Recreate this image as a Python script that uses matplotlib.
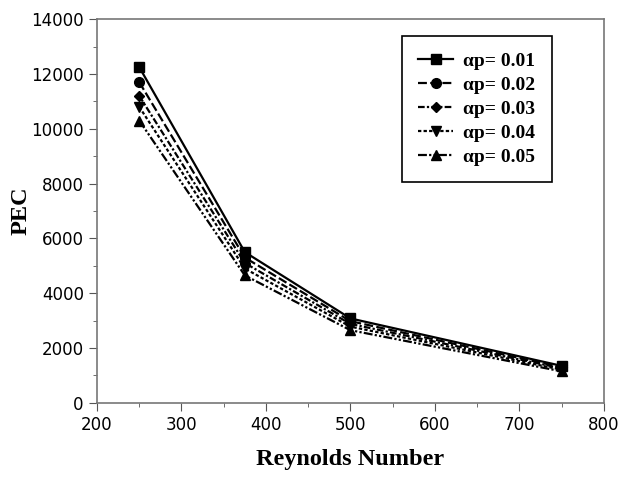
"""PEC versus Reynolds number for several alpha_p values."""

import matplotlib.pyplot as plt
from matplotlib.ticker import MultipleLocator

reynolds = [250, 375, 500, 750]
labels = ["αp= 0.01", "αp= 0.02", "αp= 0.03", "αp= 0.04", "αp= 0.05"]
pec_001 = [12250, 5500, 3080, 1350]
pec_002 = [11700, 5300, 2980, 1300]
pec_003 = [11200, 5100, 2880, 1260]
pec_004 = [10800, 4900, 2780, 1210]
pec_005 = [10300, 4650, 2650, 1150]

series = [pec_001, pec_002, pec_003, pec_004, pec_005]
markers = ["s", "o", "D", "v", "^"]
styles = ["-", (0, (4, 1.5)), (0, (3, 1, 1, 1)), (0, (1.5, 1)), (0, (4, 1, 1, 1, 1, 1))]
msizes = [7, 7, 5, 7, 7]

fig = plt.figure(figsize=(6.18, 4.79), dpi=100)
ax = fig.add_axes([0.157, 0.159, 0.82, 0.801])

for vals, lab, m, ls, ms in zip(series, labels, markers, styles, msizes):
    ax.plot(reynolds, vals, color="black", linestyle=ls, linewidth=1.6,
            marker=m, markersize=ms, label=lab)

ax.set_xlim(200, 800)
ax.set_ylim(0, 14000)
ax.xaxis.set_major_locator(MultipleLocator(100))
ax.xaxis.set_minor_locator(MultipleLocator(50))
ax.yaxis.set_major_locator(MultipleLocator(2000))
ax.yaxis.set_minor_locator(MultipleLocator(1000))
ax.tick_params(which="both", direction="out", color="#555555", top=False, right=False)
ax.tick_params(which="major", length=6, labelsize=12)
ax.tick_params(which="minor", length=3)
for sp in ax.spines.values():
    sp.set_color("#777777")
    sp.set_linewidth(1.2)

serif = {"family": "Liberation Serif", "weight": "bold", "size": 17.5}
ax.set_xlabel("Reynolds Number", fontdict=serif, labelpad=11)
ax.set_ylabel("PEC", fontdict=serif, labelpad=0)

leg = ax.legend(loc="upper right", bbox_to_anchor=(0.897, 0.956), borderaxespad=0,
                prop={"family": "Liberation Serif", "weight": "bold", "size": 14},
                fancybox=False, edgecolor="black", framealpha=1,
                handlelength=1.8, handletextpad=0.5, borderpad=0.85,
                labelspacing=0.32)
leg.get_frame().set_linewidth(1.2)

fig.savefig("out.png", dpi=100)
